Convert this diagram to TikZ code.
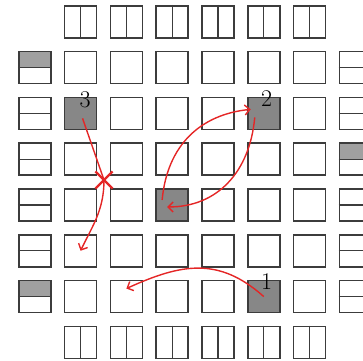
\documentclass[tikz,border=0pt]{standalone}
\usepackage{tikz}
\usetikzlibrary{arrows.meta,shapes.misc,backgrounds}
\definecolor{cellgray}{RGB}{60,60,60}
\definecolor{occupied}{RGB}{135,135,135}
\definecolor{halfshade}{RGB}{160,160,160}
\definecolor{movered}{RGB}{228,38,38}

\begin{document}
\begin{tikzpicture}[
    x=1pt, y=-1pt,
    cell/.style={rectangle, draw=cellgray, line width=1.6pt, minimum size=32pt, inner sep=0pt},
    split/.style={draw=cellgray, line width=1.3pt},
    num/.style={font=\fontsize{24}{24}\selectfont, inner sep=0pt},
    move/.style={draw=movered, line width=1.4pt, -{Straight Barb[length=5pt,width=10pt]}},
    blocked/.style={cross out, draw=movered, line width=2.2pt, minimum size=15pt, inner sep=0pt}
]
\useasboundingbox (0,0) rectangle (363,360);
\clip (0,0) rectangle (363,360);

% Inner board
\foreach \r in {1,...,6}
  \foreach \c in {1,...,6}
    \node[cell] (c-\r-\c) at (34.75+45.8*\c, 21.75+45.8*\r) {};

% Top and bottom edge
\foreach \c in {1,...,6} {
  \node[cell] (c-0-\c) at (34.75+45.8*\c, 21.75) {};
  \node[cell] (c-7-\c) at (34.75+45.8*\c, 21.75+45.8*7) {};
  \draw[split] (c-0-\c.north) -- (c-0-\c.south);
  \draw[split] (c-7-\c.north) -- (c-7-\c.south);
}

% Left and right edge
\foreach \r in {1,...,6} {
  \node[cell] (c-\r-0) at (34.75, 21.75+45.8*\r) {};
  \node[cell] (c-\r-7) at (34.75+45.8*7, 21.75+45.8*\r) {};
  \draw[split] (c-\r-0.west) -- (c-\r-0.east);
  \draw[split] (c-\r-7.west) -- (c-\r-7.east);
}

% Occupied squares
\begin{scope}[on background layer]
\foreach \p in {2-1,2-5,4-3,6-5}
  \fill[occupied] (c-\p.north west) rectangle (c-\p.south east);
\foreach \p in {1-0,6-0,3-7}
  \fill[halfshade] (c-\p.north west) rectangle (c-\p.east);
\end{scope}

% Numbers
\node[num] (n1) at ([xshift=3pt,yshift=-2pt]c-6-5.north) {1};
\node[num] (n2) at ([xshift=3pt,yshift=-2pt]c-2-5.north) {2};
\node[num] (n3) at ([xshift=4.5pt,yshift=-3pt]c-2-1.north) {3};

% Moves
\node[blocked] (xm) at (104,180) {};
\draw[move] (c-6-5.center) .. controls +(-45,-40) and +(55,-25) .. ([yshift=8pt]c-6-2.center);
\draw[move] ([xshift=-10pt,yshift=5pt]c-4-3.center) .. controls +(5,-55) and +(-50,5) .. ([xshift=-13pt,yshift=4pt]c-2-5.center);
\draw[move] ([xshift=-9pt,yshift=-4pt]c-2-5.center) .. controls +(-5,55) and +(50,0) .. ([xshift=-5pt,yshift=-2pt]c-4-3.center);
\draw[move] ([xshift=2pt,yshift=-5pt]c-2-1.center) -- (xm.center) .. controls +(0,30) and +(12,-25) .. (c-5-1.center);

\end{tikzpicture}
\end{document}
